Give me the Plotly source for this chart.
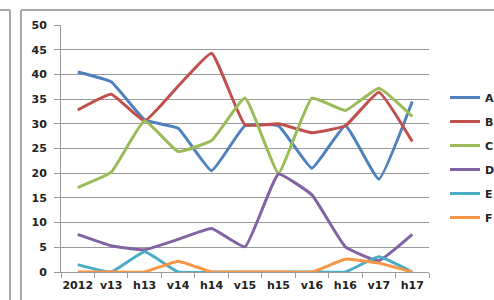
import plotly.graph_objects as go

categories = ["2012", "v13", "h13", "v14", "h14", "v15", "h15", "v16", "h16", "v17", "h17"]
series_a = [40.5, 38.5, 30.8, 29.1, 20.5, 29.6, 29.6, 21.0, 29.6, 18.8, 34.5]
series_b = [32.8, 36.0, 30.6, 37.6, 44.3, 29.8, 30.0, 28.2, 29.6, 36.4, 26.4]
series_c = [17.1, 20.2, 30.6, 24.4, 26.6, 35.2, 20.0, 35.2, 32.7, 37.2, 31.5]
series_d = [7.6, 5.3, 4.5, 6.6, 8.8, 5.1, 19.8, 15.6, 5.1, 2.3, 7.6]
series_e = [1.5, 0.0, 4.1, 0.0, 0.0, 0.0, 0.0, 0.0, 0.0, 3.1, 0.0]
series_f = [0.0, 0.0, 0.0, 2.2, 0.0, 0.0, 0.0, 0.0, 2.6, 1.8, 0.0]
names = ["A", "B", "C", "D", "E", "F"]
colors = ["#4F81BD", "#C0504D", "#9BBB59", "#8064A2", "#4BACC6", "#F79646"]
y_ticks = [0, 5, 10, 15, 20, 25, 30, 35, 40, 45, 50]

W, H = 494, 300
L, R, T, B = 61, 65, 25, 28
pw, ph = W - L - R, H - T - B

def px_x(p):
    return (p - L) / pw

def px_y(p):
    return (H - B - p) / ph

fig = go.Figure()
for name, vals, col in zip(names, [series_a, series_b, series_c, series_d, series_e, series_f], colors):
    fig.add_trace(go.Scatter(
        x=categories, y=vals, name=name, mode="lines",
        line=dict(color=col, width=3, shape="spline", smoothing=0.35),
        legendgroup=name,
    ))

font = dict(family="DejaVu Sans", size=11, color="#222222", weight="bold")
grid = "#9a9a9a"

shapes = []
frame = dict(color="#a8a8a8", width=2)
shapes.append(dict(type="line", xref="paper", yref="paper", x0=px_x(21), x1=px_x(21), y0=px_y(10), y1=px_y(310), line=frame))
shapes.append(dict(type="line", xref="paper", yref="paper", x0=px_x(21), x1=px_x(510), y0=px_y(10), y1=px_y(10), line=frame))
shapes.append(dict(type="line", xref="paper", yref="paper", x0=px_x(10), x1=px_x(10), y0=px_y(10), y1=px_y(310), line=frame))
shapes.append(dict(type="line", xref="paper", yref="paper", x0=px_x(-10), x1=px_x(10), y0=px_y(10), y1=px_y(10), line=frame))

fig.update_layout(
    width=W, height=H,
    margin=dict(l=L, r=R, t=T, b=B, pad=0, autoexpand=False),
    paper_bgcolor="white", plot_bgcolor="white",
    font=font,
    showlegend=True,
    legend=dict(x=px_x(445), y=px_y(83), xanchor="left", yanchor="top",
                font=dict(family="DejaVu Sans", size=11, color="#222222", weight="bold"),
                tracegroupgap=5, bgcolor="rgba(0,0,0,0)", itemwidth=30),
    shapes=shapes,
    xaxis=dict(type="category", showgrid=False, showline=True, linecolor=grid, linewidth=1,
               ticks="outside", ticklen=5, tickcolor=grid, tickson="boundaries",
               tickfont=font, tickangle=0, automargin=False, ticklabelstandoff=3,
               range=[-0.5, len(categories) - 0.5]),
    yaxis=dict(range=[0, 50], tickvals=y_ticks, showgrid=True, gridcolor=grid, gridwidth=1,
               showline=True, linecolor=grid, linewidth=1, ticks="outside", ticklen=6,
               tickcolor=grid, tickfont=font, ticklabelstandoff=5, zeroline=False,
               automargin=False),
)

fig.write_html("out.html", config={"displayModeBar": False},
               post_script="document.body.style.margin='0';document.body.style.overflow='hidden';")
